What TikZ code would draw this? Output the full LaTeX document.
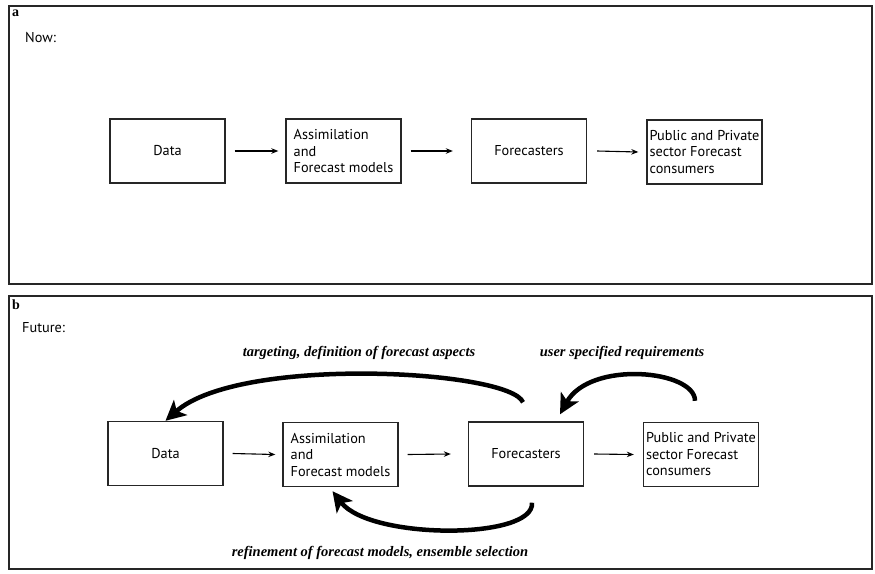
\documentclass[tikz,border=0pt]{standalone}
\usepackage{fontspec}
\setmainfont{PT Sans}
\newfontfamily\labfont{Liberation Serif}
\usetikzlibrary{arrows.meta}
\begin{document}
\begin{tikzpicture}[x=1pt,y=-1pt,
  panel/.style={draw=black!85, line width=2.4pt},
  box/.style={draw=black!85, line width=1.4pt, minimum width=115pt, minimum height=64pt, inner sep=0pt, font=\fontsize{14.3}{16.5}\selectfont},
  lbox/.style={box, align=left},
  flow/.style={line width=1.1pt, -{Stealth[length=7pt,width=5.5pt]}},
  loop/.style={line width=4.5pt, -{Stealth[length=20pt,width=20pt,inset=5pt]}},
  lab/.style={font=\labfont\bfseries\itshape\fontsize{14.5}{16}\selectfont},
  tag/.style={font=\labfont\bfseries\fontsize{14}{15}\selectfont, anchor=north west, inner sep=0pt},
  head/.style={font=\fontsize{14.3}{16}\selectfont, anchor=west, inner sep=0pt}]
\useasboundingbox (0,0) rectangle (875,573);
% panel a
\draw[panel] (9,6) rectangle (872,284);
\node[tag] (ta) at (12,10) {a};
\node[head] (na) at (25,38) {Now:};
\node[box] (da) at (167.5,151) {Data};
\node[lbox] (aa) at (343.5,151) {Assimilation\\and\\Forecast models};
\node[box] (fa) at (529,151) {Forecasters};
\node[lbox] (pa) at (704.5,152) {Public and Private\\sector Forecast\\consumers};
\draw[flow] ([xshift=9pt]da.east) -- ([xshift=-7pt]aa.west);
\draw[flow] ([xshift=9pt]aa.east) -- ([xshift=-18pt]fa.west);
\draw[flow] ([xshift=10pt]fa.east) -- ([xshift=-8pt]pa.west);
% panel b
\draw[panel] (9,296) rectangle (872,569);
\node[tag] (tb) at (12,300) {b};
\node[head] (nb) at (22,328) {Future:};
\node[box] (db) at (165.5,453.5) {Data};
\node[lbox] (ab) at (340.5,454.5) {Assimilation\\and\\Forecast models};
\node[box] (fb) at (526,454) {Forecasters};
\node[lbox] (pb) at (701,454.5) {Public and Private\\sector Forecast\\consumers};
\draw[flow] ([xshift=9pt]db.east) -- ([xshift=-7pt]ab.west);
\draw[flow] ([xshift=9pt]ab.east) -- ([xshift=-17pt]fb.west);
\draw[flow] ([xshift=10pt]fb.east) -- ([xshift=-9pt]pb.west);
% feedback loops
\draw[loop] ([xshift=-3pt,yshift=19pt]fb.north) .. controls (510,370) and (240,355) .. (db.north);
\draw[loop] ([xshift=-6pt,yshift=21pt]pb.north) .. controls (695,370) and (590,360) .. ([xshift=34pt,yshift=7pt]fb.north);
\draw[loop] ([xshift=6pt,yshift=-16pt]fb.south) .. controls (535,540) and (370,540) .. ([xshift=-8pt,yshift=-4pt]ab.south);
\node[lab] (l1) at (359,353) {targeting, definition of forecast aspects};
\node[lab] (l2) at (622,353) {user specified requirements};
\node[lab] (l3) at (380,553) {refinement of forecast models, ensemble selection};
\end{tikzpicture}
\end{document}
